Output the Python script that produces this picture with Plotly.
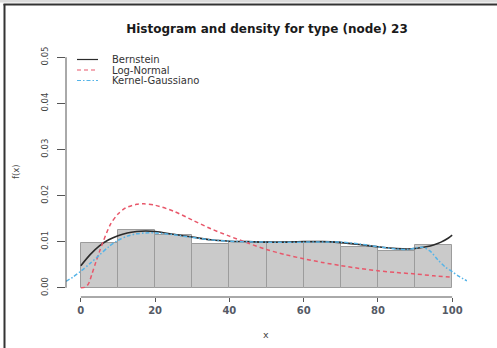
import plotly.graph_objects as go

# Histogram (density scale), 10 bins of width 10 on [0, 100]
bin_centers = [5, 15, 25, 35, 45, 55, 65, 75, 85, 95]
bin_density = [0.0098, 0.0125, 0.0115, 0.0095, 0.0100, 0.0099, 0.0099, 0.0089, 0.0080, 0.0092]

# Bernstein polynomial density estimate
bern_x = [0, 2.5, 5, 7.5, 10, 12.5, 15, 17.5, 20, 25, 30, 35, 40, 45, 50, 55, 60, 65,
          70, 75, 80, 85, 88, 90, 93, 95, 97, 99, 100]
bern_y = [0.0048, 0.0072, 0.0091, 0.0104, 0.0113, 0.0119, 0.0122, 0.0123, 0.0122, 0.0116,
          0.0110, 0.0104, 0.0101, 0.0100, 0.0099, 0.0099, 0.0100, 0.0100, 0.0098, 0.0094,
          0.0089, 0.0085, 0.0084, 0.0085, 0.0089, 0.0093, 0.0099, 0.0108, 0.0114]

# Fitted log-normal density
lnorm_x = [0, 1, 2, 3, 4, 5, 6, 8, 10, 12, 15, 17, 20, 25, 30, 35, 40, 45, 50, 55, 60,
           65, 70, 75, 80, 85, 90, 95, 100]
lnorm_y = [0.0, 0.0001, 0.0008, 0.0030, 0.0055, 0.0078, 0.0100, 0.0138, 0.0160, 0.0173,
           0.0181, 0.0182, 0.0179, 0.0166, 0.0147, 0.0128, 0.0112, 0.0097, 0.0083, 0.0072,
           0.0063, 0.0055, 0.0048, 0.0042, 0.0037, 0.0033, 0.0030, 0.0026, 0.0023]

# Gaussian kernel density estimate
kern_x = [-4, -2, 0, 2.5, 5, 7.5, 10, 12.5, 15, 17.5, 20, 25, 30, 35, 40, 50, 60, 70, 75,
          80, 85, 88, 90, 92, 94, 96, 98, 100, 102, 104]
kern_y = [0.0014, 0.0024, 0.0036, 0.0053, 0.0071, 0.0089, 0.0103, 0.0112, 0.0117, 0.0119,
          0.0119, 0.0115, 0.0109, 0.0104, 0.0101, 0.0099, 0.0099, 0.0099, 0.0095, 0.0089,
          0.0084, 0.0083, 0.0086, 0.0088, 0.0080, 0.0062, 0.0046, 0.0035, 0.0024, 0.0015]

x_ticks = [0, 20, 40, 60, 80, 100]
y_ticks = [0.00, 0.01, 0.02, 0.03, 0.04, 0.05]
y_tick_text = ["0.00", "0.01", "0.02", "0.03", "0.04", "0.05"]

legend_names = ["Bernstein", "Log-Normal", "Kernel-Gaussiano"]
legend_colors = ["#2b2b2b", "#e8576a", "#55b4e8"]
legend_dashes = ["solid", "4px,3px", "4px,2px,1.5px,2px"]

FONT = "DejaVu Sans, Liberation Sans, Arial"
W, H = 497, 348
L, R, T, B = 66, 30, 48, 51


def px_x(p):
    return (p - L) / (W - L - R)


def px_y(p):
    return (H - B - p) / (H - T - B)


fig = go.Figure()

fig.add_trace(go.Bar(
    x=bin_centers, y=bin_density, width=10,
    marker=dict(color="#cacaca", line=dict(color="#9c9c9c", width=1)),
    showlegend=False, hoverinfo="skip",
))

curves = [(bern_x, bern_y), (lnorm_x, lnorm_y), (kern_x, kern_y)]
widths = [1.6, 1.5, 1.5]
for (cx, cy), name, col, dash, lw in zip(curves, legend_names, legend_colors, legend_dashes, widths):
    fig.add_trace(go.Scatter(
        x=cx, y=cy, mode="lines", name=name,
        line=dict(color=col, width=lw, dash=dash, shape="spline", smoothing=0.8),
        showlegend=False,
    ))

shapes = []
# outer frame: light band on top, dark rules along the top and the left side
shapes.append(dict(type="rect", xref="paper", yref="paper",
                   x0=px_x(0), x1=px_x(W), y0=px_y(0), y1=px_y(2.5),
                   fillcolor="#dcdcdc", line=dict(width=0), layer="below"))
shapes.append(dict(type="line", xref="paper", yref="paper",
                   x0=px_x(3.5), x1=px_x(W), y0=px_y(4.5), y1=px_y(4.5),
                   line=dict(color="#333333", width=2)))
shapes.append(dict(type="line", xref="paper", yref="paper",
                   x0=px_x(4.5), x1=px_x(4.5), y0=px_y(4), y1=px_y(H),
                   line=dict(color="#333333", width=2)))
# axis lines spanning only the tick range
shapes.append(dict(type="line", xref="x", yref="paper",
                   x0=x_ticks[0], x1=x_ticks[-1], y0=0, y1=0,
                   line=dict(color="#555555", width=1)))
shapes.append(dict(type="line", xref="paper", yref="y",
                   x0=0, x1=0, y0=y_ticks[0], y1=y_ticks[-1],
                   line=dict(color="#555555", width=1)))

# legend keys
legend_rows = [59.5, 70, 80.5]
annotations = []
for yy, name, col, dash in zip(legend_rows, legend_names, legend_colors, legend_dashes):
    shapes.append(dict(type="line", xref="paper", yref="paper",
                       x0=px_x(77), x1=px_x(98), y0=px_y(yy), y1=px_y(yy),
                       line=dict(color=col, width=1.2, dash=dash)))
    annotations.append(dict(text=name, xref="paper", yref="paper",
                            x=px_x(110), y=px_y(yy), xanchor="left", yanchor="middle",
                            showarrow=False,
                            font=dict(family=FONT, size=10, color="#333333")))

annotations.append(dict(text="f(x)", xref="paper", yref="paper", x=px_x(16), y=px_y(172),
                        xanchor="center", yanchor="middle", textangle=-90, showarrow=False,
                        font=dict(family=FONT, size=8.5, color="#444444")))
annotations.append(dict(text="x", xref="paper", yref="paper", x=px_x(266), y=px_y(334),
                        xanchor="center", yanchor="middle", showarrow=False,
                        font=dict(family=FONT, size=9.5, color="#444444")))

fig.update_layout(
    width=W, height=H,
    margin=dict(l=L, r=R, t=T, b=B),
    paper_bgcolor="white", plot_bgcolor="white",
    bargap=0,
    title=dict(text="<b>Histogram and density for type (node) 23</b>",
               x=267 / W, y=1 - 29 / H, xanchor="center", yanchor="middle",
               font=dict(family=FONT, size=12, color="#1a1a1a")),
    xaxis=dict(range=[-4, 104], tickvals=x_ticks, ticktext=[f"<b>{v}</b>" for v in x_ticks],
               ticks="outside", ticklen=4, tickcolor="#555555",
               showgrid=False, zeroline=False, showline=False,
               tickfont=dict(family=FONT, size=10, color="#555a66")),
    yaxis=dict(range=[-0.002, 0.052], tickvals=y_ticks, ticktext=y_tick_text,
               tickangle=-90, ticks="outside", ticklen=8, tickcolor="#555555",
               ticklabelstandoff=6,
               showgrid=False, zeroline=False, showline=False,
               tickfont=dict(family=FONT, size=8.5, color="#444444")),
    shapes=shapes,
    annotations=annotations,
    showlegend=False,
)

fig.write_html("out.html")
